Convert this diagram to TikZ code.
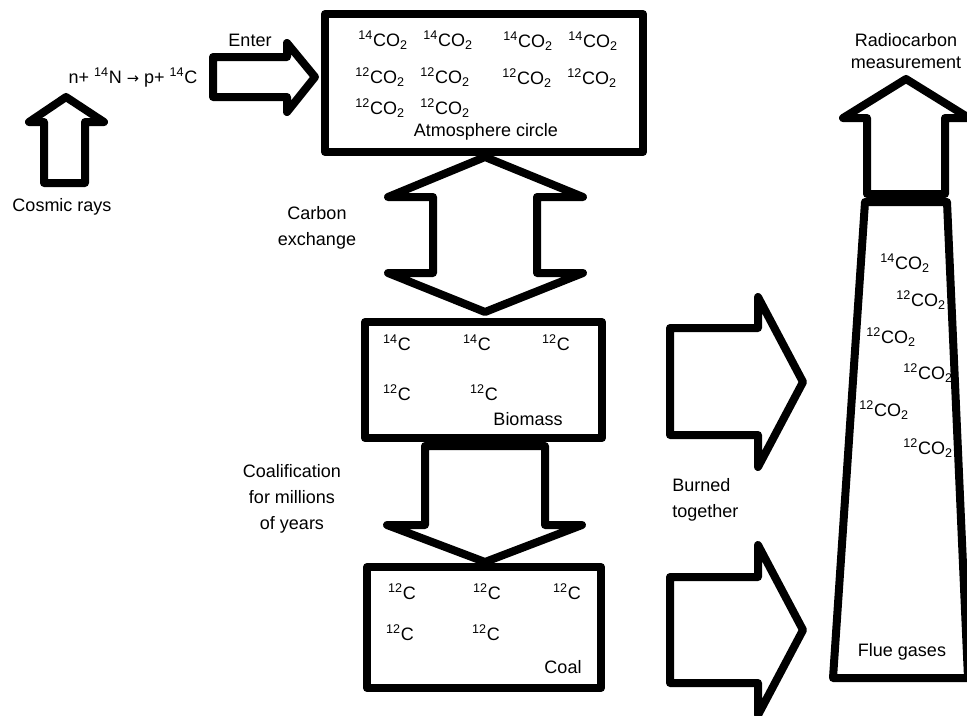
\documentclass[tikz,border=0pt]{standalone}
\usepackage{fontspec}
\setmainfont{Liberation Sans}
\newfontfamily\arrowfont{DejaVu Sans}
\begin{document}
\begin{tikzpicture}[x=0.75pt,y=-0.75pt,
  shape line/.style={line width=6pt, line join=round, line cap=round, draw=black, fill=white},
  lbl/.style={font=\fontsize{13.5}{19}\selectfont, inner sep=0pt, align=center},
  iso/.style={lbl}]
\newcommand{\sups}[1]{\textsuperscript{#1}}
\newcommand{\subs}[1]{\textsubscript{#1}}
\useasboundingbox (0,0) rectangle (967,715);

% Cosmic rays arrow
\draw[shape line] (44,183) -- (85,183) -- (85,122) -- (104,122) -- (66,97) -- (29,122) -- (44,122) -- cycle;
\node[lbl] (cosmic) at (62,207) {Cosmic rays};
\node[lbl] (reaction) at (133,78) {n+ \sups{14}N {\arrowfont\fontsize{11}{13}\selectfont →} p+ \sups{14}C};

% Enter arrow
\draw[shape line] (213,57) -- (287,57) -- (287,43) -- (315,77) -- (287,112) -- (287,97) -- (213,97) -- cycle;
\node[lbl] (enter) at (250,40) {Enter};

% Atmosphere box
\draw[shape line] (325,14) rectangle (643,152);
\node[iso] (a1) at (383,40) {\sups{14}CO\subs{2}};
\node[iso] (a2) at (448,40) {\sups{14}CO\subs{2}};
\node[iso] (a3) at (528,41) {\sups{14}CO\subs{2}};
\node[iso] (a4) at (593,41) {\sups{14}CO\subs{2}};
\node[iso] (a5) at (380,77) {\sups{12}CO\subs{2}};
\node[iso] (a6) at (445,77) {\sups{12}CO\subs{2}};
\node[iso] (a7) at (527,78) {\sups{12}CO\subs{2}};
\node[iso] (a8) at (592,78) {\sups{12}CO\subs{2}};
\node[iso] (a9) at (380,108) {\sups{12}CO\subs{2}};
\node[iso] (a10) at (445,108) {\sups{12}CO\subs{2}};
\node[lbl] (atm) at (486,132) {Atmosphere circle};

% Carbon exchange double arrow
\draw[shape line] (485,157) -- (583,197) -- (537,197) -- (537,273) -- (583,273) -- (485,312)
  -- (388,273) -- (433,273) -- (433,197) -- (388,197) -- cycle;
\node[lbl] (exch) at (317,228) {Carbon\\exchange};

% Biomass box
\draw[shape line] (365,322) rectangle (602,438);
\node[iso] (b1) at (397,343) {\sups{14}C};
\node[iso] (b2) at (477,343) {\sups{14}C};
\node[iso] (b3) at (556,343) {\sups{12}C};
\node[iso] (b4) at (397,393) {\sups{12}C};
\node[iso] (b5) at (484,393) {\sups{12}C};
\node[lbl] (bio) at (528,419) {Biomass};

% Coalification arrow
\draw[shape line] (425,446) -- (545,446) -- (545,525) -- (582,525) -- (485,562) -- (387,525) -- (425,525) -- cycle;
\node[lbl, font=\fontsize{13.5}{19.5}\selectfont] (coalif) at (292,499) {Coalification\\for millions\\of years};

% Coal box
\draw[shape line] (367,567) rectangle (601,688);
\node[iso] (c1) at (402,592) {\sups{12}C};
\node[iso] (c2) at (487,592) {\sups{12}C};
\node[iso] (c3) at (567,592) {\sups{12}C};
\node[iso] (c4) at (400,633) {\sups{12}C};
\node[iso] (c5) at (486,633) {\sups{12}C};
\node[lbl] (coal) at (563,667) {Coal};

% Burned arrows
\draw[shape line] (670,328) -- (758,328) -- (758,297) -- (803,382) -- (758,467) -- (758,435) -- (670,435) -- cycle;
\draw[shape line] (670,577) -- (758,577) -- (758,545) -- (803,630) -- (758,715) -- (758,683) -- (670,683) -- cycle;
\node[lbl, align=left, anchor=west] (burn) at (672,500) {Burned\\together};

% Chimney
\draw[shape line] (865,202) -- (947,202) -- (968,678) -- (833,678) -- cycle;
\draw[shape line] (867,194) -- (945,194) -- (945,118) -- (969,118) -- (906,79) -- (843,118) -- (867,118) -- cycle;
\node[lbl, font=\fontsize{13.5}{16.5}\selectfont] (radio) at (906,51) {Radiocarbon\\measurement};
\node[iso] (f1) at (905,263) {\sups{14}CO\subs{2}};
\node[iso] (f2) at (921,300) {\sups{12}CO\subs{2}};
\node[iso] (f3) at (891,337) {\sups{12}CO\subs{2}};
\node[iso] (f4) at (928,373) {\sups{12}CO\subs{2}};
\node[iso] (f5) at (884,410) {\sups{12}CO\subs{2}};
\node[iso] (f6) at (928,448) {\sups{12}CO\subs{2}};
\node[lbl] (flue) at (902,652) {Flue gases};
\end{tikzpicture}
\end{document}
